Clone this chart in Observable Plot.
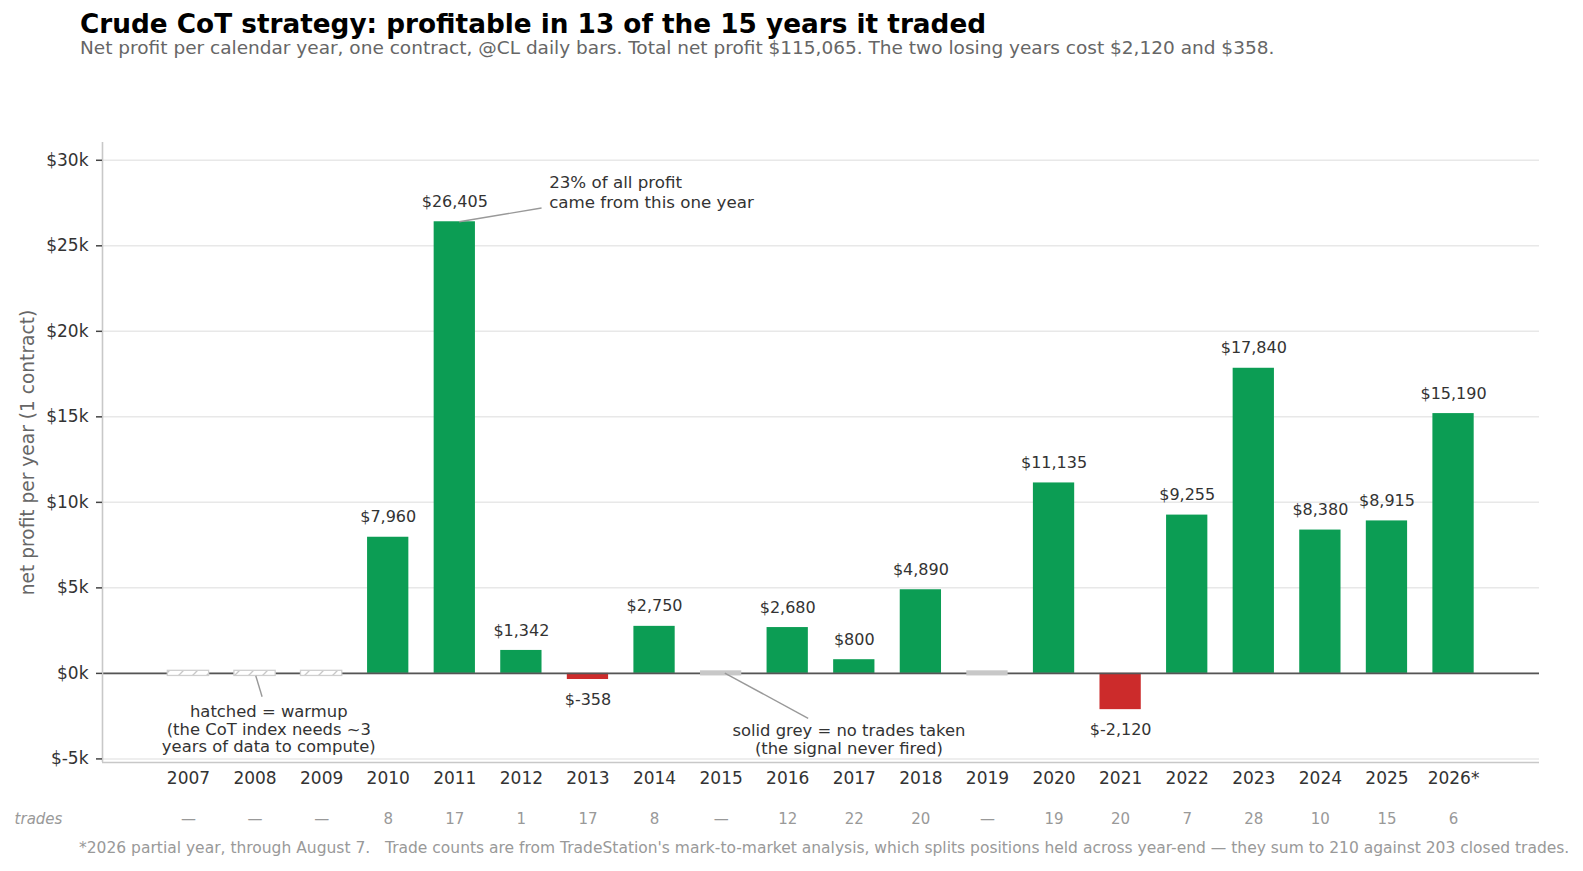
<!DOCTYPE html>
<html><head><meta charset="utf-8">
<script src="https://cdn.jsdelivr.net/npm/d3@7"></script>
<script src="https://cdn.jsdelivr.net/npm/@observablehq/plot@0.6"></script>
<style>
body{margin:0;background:#fff;font-family:"DejaVu Sans",sans-serif;}
#title{margin:9px 0 0 80px;font-size:26.3px;font-weight:bold;line-height:30px;color:#000;white-space:nowrap}
#subtitle{margin:0 0 0 80px;font-size:18.5px;line-height:17px;color:#666;white-space:nowrap}
#foot{margin:0 0 0 79px;font-size:15.5px;line-height:20px;color:#999;white-space:pre;padding-top:8px}
#chart svg{display:block;font-family:"DejaVu Sans",sans-serif;}
</style></head><body>
<div id="title">Crude CoT strategy: profitable in 13 of the 15 years it traded</div>
<div id="subtitle">Net profit per calendar year, one contract, @CL daily bars. Total net profit $115,065. The two losing years cost $2,120 and $358.</div>
<div id="chart"></div>
<div id="foot">*2026 partial year, through August 7.   Trade counts are from TradeStation's mark-to-market analysis, which splits positions held across year-end — they sum to 210 against 203 closed trades.</div>
<script>
const years = ["2007","2008","2009","2010","2011","2012","2013","2014","2015","2016","2017","2018","2019","2020","2021","2022","2023","2024","2025","2026*"];
const profit = [0,0,0,7960,26405,1342,-358,2750,0,2680,800,4890,0,11135,-2120,9255,17840,8380,8915,15190];
const status = ["warmup","warmup","warmup","traded","traded","traded","traded","traded","none","traded","traded","traded","none","traded","traded","traded","traded","traded","traded","traded"];
const trades = ["—","—","—","8","17","1","17","8","—","12","22","20","—","19","20","7","28","10","15","6"];
const yTicks = [-5000,0,5000,10000,15000,20000,25000,30000];

const rows = years.map((y, i) => ({i, year: y, value: profit[i], status: status[i], trades: trades[i]}));
const traded = rows.filter(d => d.status === "traded");
const warm = rows.filter(d => d.status === "warmup");
const none = rows.filter(d => d.status === "none");
const fmt = v => v < 0 ? "$-" + d3.format(",")(-v) : "$" + d3.format(",")(v);
const half = 0.31;
const stub = 150;

const annotations = [
  {x: 1.206, y: -3248, text: "hatched = warmup\n(the CoT index needs ~3\nyears of data to compute)", anchor: "middle", lh: 1.08},
  {x: 9.919, y: -3862, text: "solid grey = no trades taken\n(the signal never fired)", anchor: "middle", lh: 1.06},
  {x: 5.417, y: 28170, text: "23% of all profit\ncame from this one year", anchor: "start", lh: 1.22}
];
const connectors = [
  {x1: 1.011, y1: -135, x2: 1.106, y2: -1363},
  {x1: 8.055, y1: 20, x2: 9.307, y2: -2633},
  {x1: 4.065, y1: 26405, x2: 5.303, y2: 27209}
];

const defs = () => {
  const d = d3.create("svg:defs");
  const p = d.append("pattern").attr("id", "hatch").attr("patternUnits", "userSpaceOnUse")
    .attr("width", 14).attr("height", 14);
  p.append("rect").attr("width", 14).attr("height", 14).attr("fill", "#fff");
  p.append("path").attr("d", "M0,14L14,0M-3.5,3.5L3.5,-3.5M10.5,17.5L17.5,10.5")
    .attr("stroke", "#c8c8c8").attr("stroke-width", 1.3);
  return d.node();
};

const chart = Plot.plot({
  width: 1583,
  height: 774,
  marginTop: 86,
  marginBottom: 68,
  marginLeft: 102,
  marginRight: 44,
  style: {fontFamily: "DejaVu Sans, sans-serif", background: "#fff"},
  x: {type: "linear", domain: [-1.291, 20.291], axis: null},
  y: {domain: [-5210, 31040], axis: null},
  marks: [
    defs,
    Plot.gridY(yTicks, {stroke: "#e8e8e8", strokeOpacity: 1, strokeWidth: 1.5}),
    Plot.rectY(traded, {x1: d => d.i - half, x2: d => d.i + half, y1: 0, y2: "value",
      fill: d => d.value < 0 ? "#cc2b2b" : "#0c9d54"}),
    Plot.ruleY([0], {stroke: "#555", strokeWidth: 1.8}),
    Plot.rectY(warm, {x1: d => d.i - half, x2: d => d.i + half, y1: -stub, y2: stub,
      fill: "url(#hatch)", stroke: "#cfcfcf", strokeWidth: 1.3}),
    Plot.rectY(none, {x1: d => d.i - half, x2: d => d.i + half, y1: -stub, y2: stub,
      fill: "#c8c8c8"}),
    Plot.ruleX([-1.291], {stroke: "#c8c8c8", strokeWidth: 1.6}),
    Plot.ruleY([-5210], {stroke: "#c8c8c8", strokeWidth: 1.6}),
    Plot.axisY({ticks: yTicks, tickFormat: v => "$" + (v / 1000) + "k", tickSize: 6, tickPadding: 8,
      stroke: "#444", strokeWidth: 1.5, fill: "#333", fontSize: 17, label: null}),
    Plot.axisX({ticks: d3.range(years.length), tickFormat: i => years[i], tickSize: 0, tickPadding: 9,
      fill: "#333", fontSize: 17, label: null}),
    Plot.text(["net profit per year (1 contract)"], {text: d => d, frameAnchor: "left", dx: -74,
      textAnchor: "middle", rotate: -90, fill: "#666", fontSize: 18.6}),
    Plot.text(traded.filter(d => d.value >= 0), {x: "i", y: "value", text: d => fmt(d.value),
      dy: -20, fill: "#333", fontSize: 16}),
    Plot.text(traded.filter(d => d.value < 0), {x: "i", y: "value", text: d => fmt(d.value),
      dy: 20, fill: "#333", fontSize: 16}),
    Plot.link(connectors, {x1: "x1", y1: "y1", x2: "x2", y2: "y2", stroke: "#999", strokeWidth: 1.4}),
    ...annotations.map(a => Plot.text([a], {x: "x", y: "y", text: "text", textAnchor: a.anchor,
      lineHeight: a.lh, fill: "#333", fontSize: a.anchor === "start" ? 16.7 : 16.4})),
    Plot.text(rows, {x: "i", text: "trades", frameAnchor: "bottom", dy: 61, fill: "#999", fontSize: 15}),
    Plot.text(["trades"], {text: d => d, frameAnchor: "bottom-left", textAnchor: "middle", dx: -64, dy: 61,
      fontStyle: "italic", fill: "#999", fontSize: 15})
  ]
});
document.getElementById("chart").appendChild(chart);
</script>
</body></html>
